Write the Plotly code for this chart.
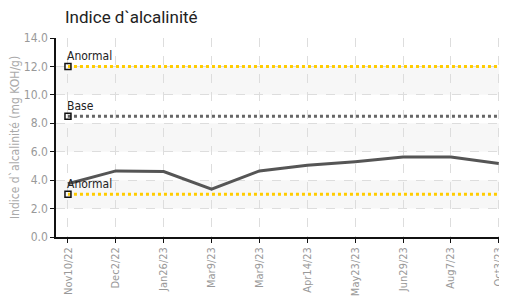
import plotly.graph_objects as go

categories = ["Nov10/22", "Dec2/22", "Jan26/23", "Mar9/23", "Mar9/23", "Apr14/23",
              "May23/23", "Jun29/23", "Aug7/23", "Oct3/23"]
values = [3.75, 4.65, 4.6, 3.37, 4.65, 5.05, 5.3, 5.62, 5.62, 5.17]
ref_names = ["Anormal", "Base", "Anormal"]
ref_values = [12.0, 8.5, 3.0]
ref_colors = ["#FFCC00", "#666666", "#FFCC00"]
y_ticks = [0, 2, 4, 6, 8, 10, 12, 14]
bands = [(10, 12), (6, 8), (2, 4)]

xs = list(range(len(categories)))
font_narrow = "DejaVu Sans Condensed, Liberation Sans Narrow, Roboto, sans-serif"

fig = go.Figure()

for lo, hi in bands:
    fig.add_shape(type="rect", xref="paper", yref="y", x0=0, x1=1, y0=lo, y1=hi,
                  fillcolor="#f7f7f7", line_width=0, layer="below")

for name, v, c in zip(ref_names, ref_values, ref_colors):
    fig.add_trace(go.Scatter(x=xs, y=[v] * len(xs), mode="lines",
                             line=dict(color=c, width=3, dash="dot"),
                             showlegend=False, hoverinfo="skip"))
    fig.add_trace(go.Scatter(x=[xs[0]], y=[v], mode="markers",
                             marker=dict(symbol="square-open", size=6, color="#111111",
                                         line=dict(width=1.5)),
                             showlegend=False, hoverinfo="skip"))
    fig.add_annotation(x=xs[0], y=v, text=name, showarrow=False, xanchor="left",
                       yanchor="bottom", xshift=-3, yshift=1,
                       font=dict(family="DejaVu Sans Condensed, Roboto, sans-serif", size=12,
                                 color="#222222"))

fig.add_trace(go.Scatter(x=xs, y=values, mode="lines",
                         line=dict(color="#555555", width=3),
                         showlegend=False))

W, H = 499, 298
fig.update_layout(
    width=W, height=H,
    margin=dict(l=48, r=2, t=30, b=69, autoexpand=False),
    paper_bgcolor="white", plot_bgcolor="white",
    title=dict(text="Indice d`alcalinité", x=57 / W, xanchor="left",
               y=1 - 9 / H, yanchor="middle", yref="container",
               font=dict(family="Roboto, Arial, sans-serif", size=17, color="#222222")),
    xaxis=dict(range=[-0.25, 9.13], tickmode="array", tickvals=xs, ticktext=categories,
               tickangle=-90, tickfont=dict(family=font_narrow, size=11, color="#999999"),
               showgrid=True, gridcolor="#dddddd", griddash="dash", gridwidth=1,
               showline=True, linecolor="#111111", linewidth=1.5, automargin=False,
               ticks="outside", ticklen=4, tickcolor="#111111", zeroline=False),
    yaxis=dict(range=[0, 14], tickmode="array", tickvals=y_ticks,
               ticktext=[f"{t:.1f}" for t in y_ticks],
               tickfont=dict(family=font_narrow, size=12, color="#999999"),
               title=dict(text="Indice d`alcalinité (mg KOH/g)",
                          font=dict(family=font_narrow, size=12, color="#aaaaaa"), standoff=4),
               showgrid=True, gridcolor="#dddddd", griddash="dash", gridwidth=1,
               showline=True, linecolor="#111111", linewidth=1.5, automargin=False,
               ticks="outside", ticklen=4, tickcolor="#111111", zeroline=False),
)

fig.write_html("out.html")
